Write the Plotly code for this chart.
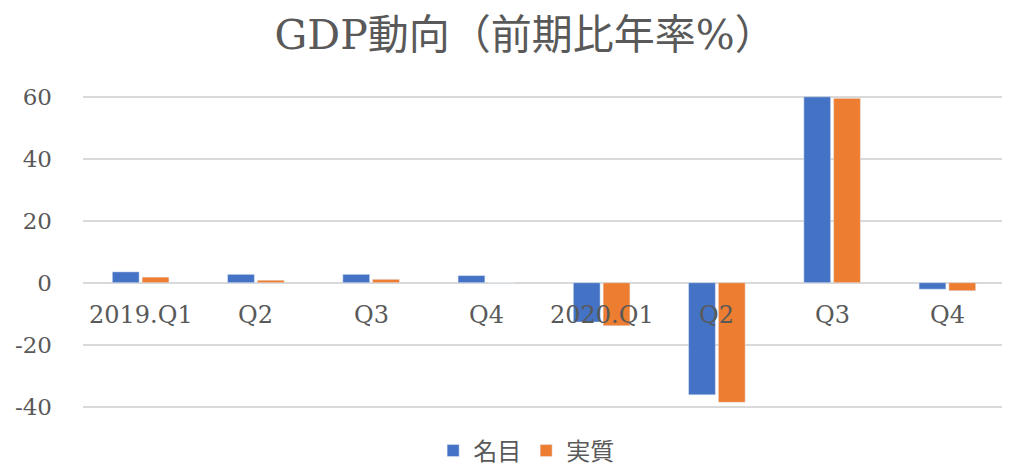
import plotly.graph_objects as go

categories = ["2019.Q1", "Q2", "Q3", "Q4", "2020.Q1", "Q2 ", "Q3 ", "Q4 "]
tick_labels = ["2019.Q1", "Q2", "Q3", "Q4", "2020.Q1", "Q2", "Q3", "Q4"]
nominal = [3.5, 2.7, 2.7, 2.3, -12.7, -36.2, 60.0, -2.1]
real = [1.8, 0.8, 1.1, 0.0, -13.9, -38.6, 59.5, -2.6]
y_ticks = [-40, -20, 0, 20, 40, 60]
y_tick_text = ["-40", "-20", "0", "20", "40", "60"]

SERIF = "DejaVu Serif, Noto Sans CJK JP, serif"
GREY = "#595959"

fig = go.Figure()
fig.add_trace(go.Bar(x=categories, y=nominal, name="名目", marker_color="#4472C4"))
fig.add_trace(go.Bar(x=categories, y=real, name="実質", marker_color="#ED7D31"))

for cat, lab in zip(categories, tick_labels):
    fig.add_annotation(x=cat, y=0, xref="x", yref="y", text=lab, showarrow=False,
                       yanchor="middle", yshift=-32,
                       font=dict(family=SERIF, size=24, color=GREY))

fig.update_layout(
    width=1010, height=468,
    margin=dict(l=75, r=13, t=82, b=61, autoexpand=False),
    paper_bgcolor="white", plot_bgcolor="white",
    barmode="group", bargap=0.483, bargroupgap=0.1,
    title=dict(text="GDP動向（前期比年率%）", x=0.512, xref="container",
               y=1 - 27 / 468, yref="container", xanchor="center", yanchor="middle",
               font=dict(family=SERIF, size=41, color=GREY)),
    legend=dict(orientation="h", x=0.513, xref="container", xanchor="center",
                y=1 - 443 / 468, yref="container", yanchor="middle",
                font=dict(family=SERIF, size=24, color=GREY), itemwidth=30,
                traceorder="normal"),
    xaxis=dict(showticklabels=False, showgrid=False, showline=False, ticks="",
               automargin=False),
    yaxis=dict(range=[-42.7, 62.2], tickvals=y_ticks, ticktext=y_tick_text,
               showgrid=True, gridcolor="#d9d9d9", gridwidth=2,
               zeroline=True, zerolinecolor="#d9d9d9", zerolinewidth=2,
               showline=False, ticks="", ticklabelstandoff=30, automargin=False,
               tickfont=dict(family=SERIF, size=23, color=GREY)),
)

fig.write_html("out.html")
